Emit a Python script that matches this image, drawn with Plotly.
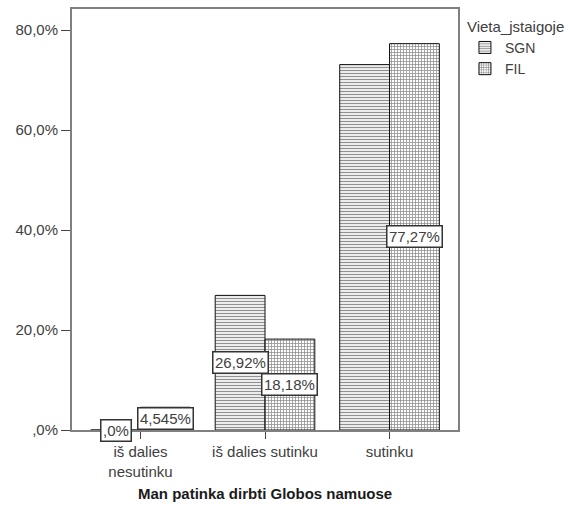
import plotly.graph_objects as go

categories = ["iš dalies<br>nesutinku", "iš dalies sutinku", "sutinku"]
sgn_values = [0.0, 26.92, 73.08]
fil_values = [4.545, 18.18, 77.27]
sgn_labels = [",0%", "26,92%", None]
fil_labels = ["4,545%", "18,18%", "77,27%"]
y_tickvals = [0, 20, 40, 60, 80]
y_ticktext = [",0%", "20,0%", "40,0%", "60,0%", "80,0%"]
x_title = "Man patinka dirbti Globos namuose"

FONT = "Liberation Sans, Arial, sans-serif"
GRAY = "#404040"
FS = 15
xs = list(range(len(categories)))
bar_w = 0.4

fig = go.Figure()
fig.add_trace(go.Bar(
    x=[x - bar_w / 2 for x in xs], y=sgn_values, width=bar_w, name="SGN",
    marker=dict(color="white", line=dict(color="#111111", width=1),
                pattern=dict(shape="-", fgcolor="#222222", bgcolor="white", size=3, solidity=0.45)),
))
fig.add_trace(go.Bar(
    x=[x + bar_w / 2 for x in xs], y=fil_values, width=bar_w, name="FIL",
    marker=dict(color="white", line=dict(color="#111111", width=1),
                pattern=dict(shape="+", fgcolor="#222222", bgcolor="white", size=3, solidity=0.45)),
))

for vals, labs, off in [(sgn_values, sgn_labels, -bar_w / 2), (fil_values, fil_labels, bar_w / 2)]:
    for x, v, t in zip(xs, vals, labs):
        if t is None:
            continue
        fig.add_annotation(
            x=x + off, y=v / 2, text=t, showarrow=False,
            font=dict(family=FONT, size=FS, color=GRAY),
            bgcolor="white", bordercolor="#333333", borderwidth=1.5, borderpad=1.5,
        )

fig.add_annotation(
    x=0.5, y=-0.15, xref="paper", yref="paper", xanchor="center", yanchor="middle",
    text="<b>" + x_title + "</b>", showarrow=False,
    font=dict(family=FONT, size=FS, color="#1a1a1a"),
)

fig.update_layout(
    width=587, height=508,
    margin=dict(l=72, r=129, t=9, b=78, autoexpand=False),
    paper_bgcolor="white", plot_bgcolor="white",
    barmode="overlay",
    font=dict(family=FONT, size=FS, color=GRAY),
    legend=dict(
        x=1.018, y=0.992, xanchor="left", yanchor="top",
        bgcolor="rgba(0,0,0,0)",
        title=dict(text="Vieta_jstaigoje", font=dict(family=FONT, size=FS, color=GRAY)),
        font=dict(family=FONT, size=14, color=GRAY),
        itemwidth=30, tracegroupgap=0,
    ),
    xaxis=dict(
        tickmode="array", tickvals=xs, ticktext=categories,
        range=[-0.55, 2.55], automargin=False,
        showline=True, linecolor="#808080", linewidth=2, mirror=True,
        ticks="outside", ticklen=7, tickcolor="#444444",
        showgrid=False, zeroline=False,
        tickfont=dict(family=FONT, size=FS, color=GRAY),
    ),
    yaxis=dict(
        tickmode="array", tickvals=y_tickvals, ticktext=y_ticktext,
        range=[0, 84.2], automargin=False,
        showline=True, linecolor="#808080", linewidth=2, mirror=True,
        ticks="outside", ticklen=9, tickcolor="#444444",
        showgrid=False, zeroline=False,
        tickfont=dict(family=FONT, size=FS, color=GRAY),
    ),
)

fig.write_html("out.html", config={"displayModeBar": False},
               post_script="document.body.style.margin='0';")
